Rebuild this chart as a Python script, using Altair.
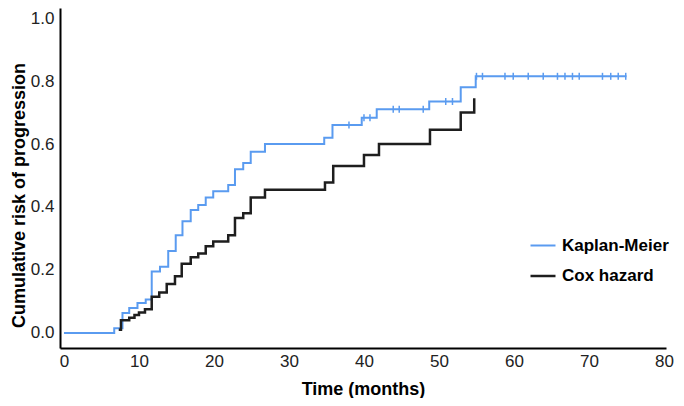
import altair as alt
import pandas as pd

# Kaplan-Meier cumulative risk (step-after)
km_time = [0, 6.7, 7.8, 8.7, 9.8, 10.9, 11.7, 12.8, 13.9, 14.9, 15.8, 16.9, 17.9, 18.9,
           19.9, 21.9, 22.8, 23.9, 24.9, 26.8, 34.7, 35.8, 39.7, 41.7, 48.7, 52.9, 54.9, 75.0]
km_risk = [0, 0.015, 0.063, 0.079, 0.095, 0.106, 0.195, 0.21, 0.26, 0.31, 0.355, 0.39, 0.406, 0.43,
           0.45, 0.47, 0.52, 0.54, 0.575, 0.60, 0.62, 0.66, 0.683, 0.71, 0.735, 0.78, 0.815, 0.815]

# Cox hazard cumulative risk (step-after)
cox_time = [7.3, 7.6, 8.7, 9.4, 10.0, 10.8, 11.7, 12.7, 13.7, 14.8, 15.7, 16.9, 17.9, 18.9,
            19.9, 21.9, 22.8, 23.9, 24.9, 26.8, 34.8, 35.9, 40.0, 42.0, 48.8, 52.9, 54.7]
cox_risk = [0.01, 0.04, 0.048, 0.057, 0.065, 0.075, 0.115, 0.128, 0.155, 0.18, 0.22, 0.24, 0.252, 0.275,
            0.29, 0.31, 0.365, 0.38, 0.43, 0.455, 0.478, 0.53, 0.565, 0.60, 0.645, 0.70, 0.745]

# Censored observations on the Kaplan-Meier curve
censor_time = [38.0, 40.0, 40.8, 43.9, 44.7, 47.9, 50.9, 51.8,
               55.0, 55.8, 58.8, 59.9, 61.9, 63.9, 65.8, 66.8, 67.8, 68.7, 71.8, 72.9, 73.9, 74.9]
censor_risk = [0.66, 0.683, 0.683, 0.71, 0.71, 0.71, 0.735, 0.735] + [0.815] * 14

series_names = ["Kaplan-Meier", "Cox hazard"]
series_colors = ["#5a9bf0", "#1e1e1e"]
x_ticks = [0, 10, 20, 30, 40, 50, 60, 70, 80]
y_ticks = [0.0, 0.2, 0.4, 0.6, 0.8, 1.0]

lines_df = pd.concat([
    pd.DataFrame({"time": km_time, "risk": km_risk, "series": series_names[0]}),
    pd.DataFrame({"time": cox_time, "risk": cox_risk, "series": series_names[1]}),
])
censor_df = pd.DataFrame({"time": censor_time, "risk": censor_risk})

FONT = "Liberation Sans"

x_enc = alt.X("time:Q",
              scale=alt.Scale(domain=[-0.53, 80.27], nice=False, zero=False),
              axis=alt.Axis(values=x_ticks, title="Time (months)", labelPadding=5,
                            titleY=46, titleBaseline="alphabetic"))
y_enc = alt.Y("risk:Q",
              scale=alt.Scale(domain=[-0.048, 1.032], nice=False, zero=False),
              axis=alt.Axis(values=y_ticks, format=".1f", title="Cumulative risk of progression",
                            labelPadding=6, titleX=-36, titleY=187, titleBaseline="alphabetic"))

lines = alt.Chart(lines_df).mark_line(interpolate="step-after").encode(
    x=x_enc,
    y=y_enc,
    color=alt.Color("series:N",
                    scale=alt.Scale(domain=series_names, range=series_colors),
                    sort=series_names,
                    legend=alt.Legend(title=None, orient="none", legendX=469, legendY=224)),
    strokeWidth=alt.StrokeWidth("series:N",
                                scale=alt.Scale(domain=series_names, range=[2, 2.5]),
                                legend=None),
    detail="series:N",
)

censors = alt.Chart(censor_df).mark_point(
    shape="M0,-1L0,1", size=49, filled=False, color=series_colors[0], strokeWidth=1.5, opacity=1
).encode(x="time:Q", y="risk:Q")

chart = alt.layer(lines, censors).properties(
    width=606, height=340,
    autosize=alt.AutoSizeParams(type="none"),
    padding={"left": 52, "top": 0, "right": 10, "bottom": 50},
).configure_view(stroke=None).configure_axis(
    domainColor="black", domainWidth=2, ticks=False, grid=False,
    labelFont=FONT, labelFontSize=17, labelColor="#222222",
    titleFont=FONT, titleFontSize=18, titleFontWeight="bold", titleColor="black",
).configure_legend(
    labelFont=FONT, labelFontSize=17, labelFontWeight="bold", labelColor="black",
    symbolType="stroke", symbolSize=625, symbolStrokeWidth=2.5, rowPadding=8,
    labelOffset=5, padding=0,
)

chart.save("out.html", embed_options={"renderer": "svg", "actions": False})
